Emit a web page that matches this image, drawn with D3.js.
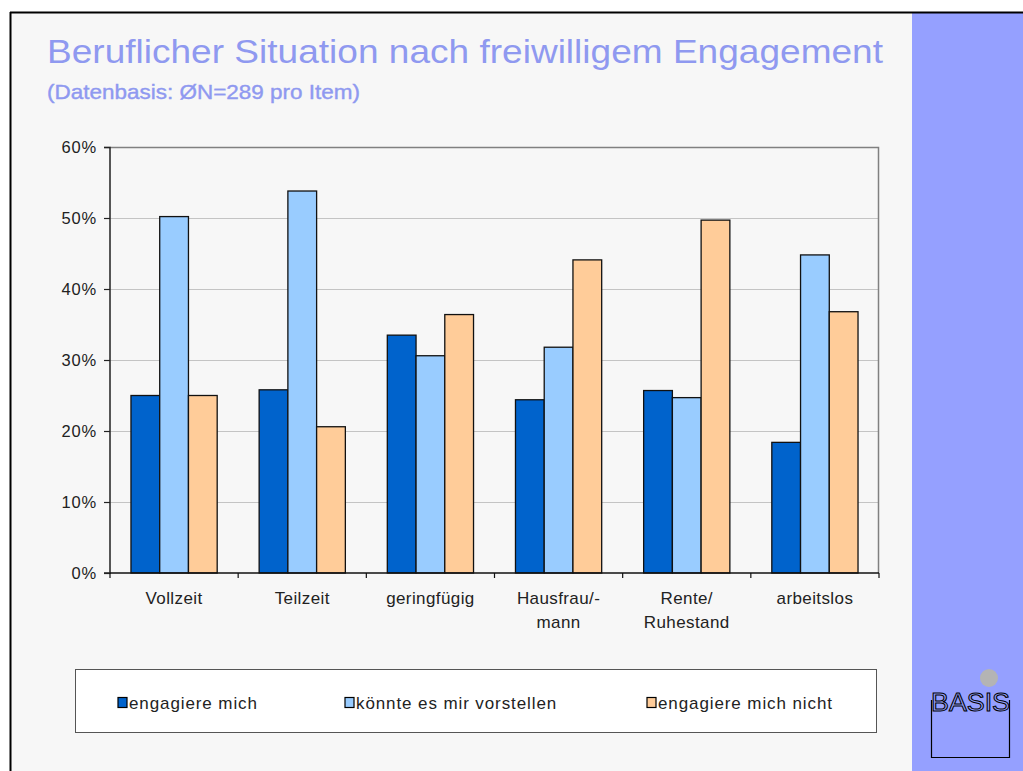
<!DOCTYPE html>
<html>
<head>
<meta charset="utf-8">
<script src="https://cdn.jsdelivr.net/npm/d3@7"></script>
<style>
  html, body { margin: 0; padding: 0; background: #fff; }
  svg { display: block; font-family: "Liberation Sans", Arial, Helvetica, sans-serif; }
</style>
</head>
<body>
<svg></svg>
<script>
const svgWidth = 1023
const svgHeight = 771
const margins = { top: 147, bottom: 198, left: 110, right: 144 }
const plotWidth = svgWidth - margins.left - margins.right
const plotHeight = svgHeight - margins.top - margins.bottom

// data
const categories = ["Vollzeit", "Teilzeit", "geringfügig", "Hausfrau/-\nmann", "Rente/\nRuhestand", "arbeitslos"]
const seriesNames = ["engagiere mich", "könnte es mir vorstellen", "engagiere mich nicht"]
const engagiere = [25.0, 25.8, 33.5, 24.4, 25.7, 18.4]
const vorstellen = [50.2, 53.8, 30.6, 31.8, 24.7, 44.8]
const nicht = [25.0, 20.6, 36.4, 44.1, 49.7, 36.8]
const yTicks = [0, 10, 20, 30, 40, 50, 60]
const colors = ["#0063CC", "#99CCFF", "#FFCC99"]

const seriesValues = [engagiere, vorstellen, nicht]

const svg = d3.select("svg")
    .attr("width", svgWidth)
    .attr("height", svgHeight)

// slide background + frame
svg.append("rect").attr("x", 10).attr("y", 12).attr("width", svgWidth - 10).attr("height", svgHeight - 12)
    .attr("fill", "#F7F7F7")
svg.append("rect").attr("x", 912).attr("y", 13).attr("width", svgWidth - 912).attr("height", svgHeight - 13)
    .attr("fill", "#95A0FF")
svg.append("line").attr("x1", 10).attr("x2", svgWidth).attr("y1", 12.5).attr("y2", 12.5)
    .attr("stroke", "#000").attr("stroke-width", 2)
svg.append("line").attr("x1", 10.5).attr("x2", 10.5).attr("y1", 12).attr("y2", svgHeight)
    .attr("stroke", "#000").attr("stroke-width", 2)

svg.append("text")
    .text("Beruflicher Situation nach freiwilligem Engagement")
    .attr("x", 47)
    .attr("y", 63)
    .attr("font-size", 33)
    .attr("textLength", 836)
    .attr("lengthAdjust", "spacingAndGlyphs")
    .attr("fill", "#8F99F0")
svg.append("text")
    .text("(Datenbasis: ØN=289 pro Item)")
    .attr("x", 47)
    .attr("y", 99)
    .attr("font-size", 21)
    .attr("textLength", 313)
    .attr("lengthAdjust", "spacingAndGlyphs")
    .attr("fill", "#8F99F0")
    .attr("stroke", "#8F99F0")
    .attr("stroke-width", 0.4)

const xScale = d3.scaleBand()
    .domain(categories)
    .range([0, plotWidth])
const innerScale = d3.scaleBand()
    .domain(d3.range(seriesNames.length))
    .range([0, xScale.bandwidth()])
    .paddingOuter(0.73)
const yScale = d3.scaleLinear()
    .domain([0, 60])
    .range([plotHeight, 0])

const plot = svg.append("g")
    .attr("transform", `translate(${margins.left},${margins.top})`)

// gridlines
plot.append("g")
    .selectAll("line")
    .data(yTicks.slice(1, -1))
    .join("line")
    .attr("x1", 0).attr("x2", plotWidth)
    .attr("y1", (d) => yScale(d) + 0.5).attr("y2", (d) => yScale(d) + 0.5)
    .attr("stroke", "#C4C4C4")

// top and right frame
plot.append("path")
    .attr("d", `M0,0.5H${plotWidth - 0.5}V${plotHeight}`)
    .attr("fill", "none")
    .attr("stroke", "#808080")
    .attr("stroke-width", 1.5)

// bars
seriesValues.forEach((values, index) => {
    plot.selectAll(`.rect${index}`)
        .data(values)
        .join("rect")
        .attr("class", `rect${index}`)
        .attr("x", (d, i) => xScale(categories[i]) + innerScale(index))
        .attr("y", (d) => yScale(d))
        .attr("width", innerScale.bandwidth())
        .attr("height", (d) => plotHeight - yScale(d))
        .attr("fill", colors[index])
        .attr("stroke", "#111")
        .attr("stroke-width", 1.3)
})

// y axis
const yAxis = plot.append("g")
    .call(d3.axisLeft(yScale).tickValues(yTicks).tickFormat((d) => d + "%").tickSize(6).tickPadding(7))
yAxis.select(".domain").attr("stroke", "#222").attr("stroke-width", 1.5).attr("d", `M-6,0.5H0V${plotHeight}H-6`)
yAxis.selectAll(".tick line").attr("stroke", "#222").attr("stroke-width", 1.2)
yAxis.selectAll("text")
    .attr("font-size", 16.5).attr("letter-spacing", 0.8).attr("fill", "#222")
    .attr("font-family", "Liberation Sans, Arial, sans-serif")

// x axis with ticks at category boundaries
const xAxis = plot.append("g")
    .attr("transform", `translate(0,${plotHeight})`)
xAxis.append("line")
    .attr("x1", 0).attr("x2", plotWidth)
    .attr("stroke", "#111").attr("stroke-width", 1.5)
xAxis.selectAll(".xtick")
    .data(d3.range(categories.length + 1))
    .join("line")
    .attr("class", "xtick")
    .attr("x1", (i) => i * xScale.step()).attr("x2", (i) => i * xScale.step())
    .attr("y1", 0).attr("y2", 5)
    .attr("stroke", "#111").attr("stroke-width", 1.2)
xAxis.selectAll(".xlabel")
    .data(categories)
    .join("text")
    .attr("class", "xlabel")
    .attr("text-anchor", "middle")
    .attr("font-size", 17)
    .attr("letter-spacing", 0.4)
    .attr("fill", "#222")
    .each(function (d) {
        d3.select(this).selectAll("tspan")
            .data(d.split("\n"))
            .join("tspan")
            .attr("x", xScale(d) + xScale.bandwidth() / 2)
            .attr("y", (t, i) => 31 + i * 24)
            .text((t) => t)
    })

// legend
const legend = svg.append("g").attr("transform", "translate(75,669)")
legend.append("rect")
    .attr("x", 0.5).attr("y", 0.5).attr("width", 801).attr("height", 63)
    .attr("fill", "#fff").attr("stroke", "#555").attr("stroke-width", 1)
const legendX = [43, 270, 572]
seriesNames.forEach((name, i) => {
    legend.append("rect")
        .attr("x", legendX[i]).attr("y", 28.5).attr("width", 9).attr("height", 10)
        .attr("fill", colors[i]).attr("stroke", "#000").attr("stroke-width", 1.2)
    legend.append("text")
        .text(name)
        .attr("x", legendX[i] + 11).attr("y", 40)
        .attr("font-size", 17).attr("letter-spacing", 0.9).attr("fill", "#222")
})

// BASIS logo
const logo = svg.append("g")
logo.append("circle").attr("cx", 989).attr("cy", 678).attr("r", 9).attr("fill", "#B4B4B4")
logo.append("path")
    .attr("d", "M931.5,700V757.5H1009.5V700")
    .attr("fill", "none").attr("stroke", "#000").attr("stroke-width", 1.2)
logo.append("text")
    .text("BASIS")
    .attr("x", 931).attr("y", 711)
    .attr("font-size", 25)
    .attr("font-family", "Liberation Sans Narrow, Liberation Sans, Arial, sans-serif")
    .attr("textLength", 79)
    .attr("lengthAdjust", "spacingAndGlyphs")
    .attr("fill", "#95A0FF").attr("stroke", "#000").attr("stroke-width", 1)
</script>
</body>
</html>
